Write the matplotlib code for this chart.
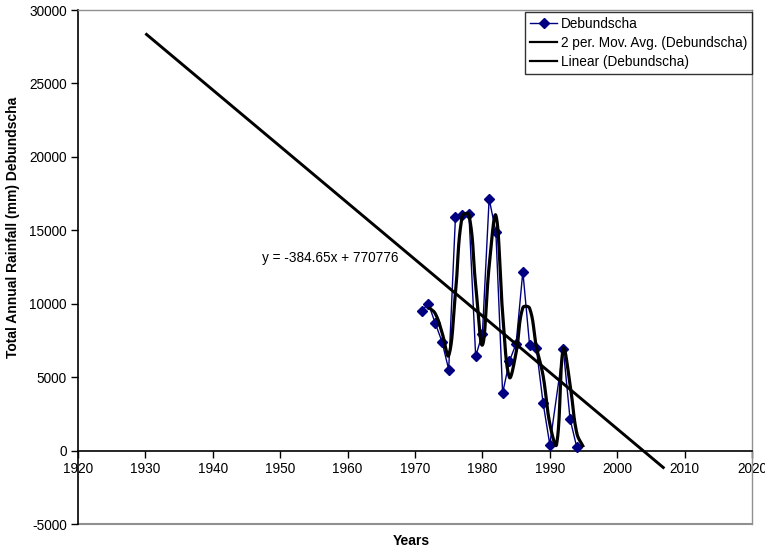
import numpy as np
import matplotlib
matplotlib.use("Agg")
import matplotlib.pyplot as plt
from matplotlib.lines import Line2D

plt.rcParams['font.family'] = ['Liberation Sans', 'DejaVu Sans']

# ---- data ----
years = [1971, 1972, 1973, 1974, 1975, 1976, 1977, 1978, 1979, 1980, 1981, 1982,
         1983, 1984, 1985, 1986, 1987, 1988, 1989, 1990, 1992, 1993, 1994]
rainfall = [9537, 9990, 8672, 7425, 5518, 15893, 16008, 16122, 6425, 7950, 17145, 14870,
            3906, 6085, 7270, 12190, 7200, 6970, 3250, 410, 6930, 2160, 225]

ma_years = [1972, 1973, 1974, 1975, 1976, 1977, 1978, 1979, 1980, 1981, 1982, 1983,
            1984, 1985, 1986, 1987, 1988, 1989, 1990, 1991, 1992, 1993, 1994, 1995]
ma_vals = [9763, 9331, 8049, 6472, 10706, 15951, 16065, 11274, 7188, 12548, 16008, 9388,
           4996, 6678, 9730, 9695, 7085, 5110, 1830, 410, 6930, 4545, 1193, 225]

trend_slope = -384.65
trend_intercept = 770776
trend_range = [1930, 2007]
equation = "y = -384.65x + 770776"

x_ticks = list(range(1920, 2021, 10))
y_ticks = list(range(-5000, 30001, 5000))

XLIM = (1920, 2020)
YLIM = (-5000, 30000)

FIG_W, FIG_H = 765, 555
AX_L, AX_R, AX_T, AX_B = 78, 752, 10, 524


def smooth(xs, ys, sx, sy, k=0.4, n=40):
    """Excel-like smoothed curve: Bezier segments whose control lengths
    are proportioned by neighbouring segment lengths (in screen space)."""
    P = np.column_stack([np.asarray(xs, float) * sx, np.asarray(ys, float) * sy])
    m = len(P)
    out_c = np.zeros_like(P)
    in_c = np.zeros_like(P)
    for i in range(m):
        pm = P[i - 1] if i > 0 else P[i]
        pp = P[i + 1] if i + 1 < m else P[i]
        d_prev = np.hypot(*(P[i] - pm))
        d_next = np.hypot(*(pp - P[i]))
        T = pp - pm
        tot = d_prev + d_next
        if tot == 0:
            out_c[i] = P[i]
            in_c[i] = P[i]
            continue
        out_c[i] = P[i] + T * k * d_next / tot
        in_c[i] = P[i] - T * k * d_prev / tot
    segs = []
    t = np.linspace(0, 1, n)[:, None]
    for i in range(m - 1):
        p0, c1, c2, p3 = P[i], out_c[i], in_c[i + 1], P[i + 1]
        seg = ((1 - t) ** 3) * p0 + 3 * ((1 - t) ** 2) * t * c1 + 3 * (1 - t) * t ** 2 * c2 + t ** 3 * p3
        if i > 0:
            seg = seg[1:]
        segs.append(seg)
    seg = np.vstack(segs)
    return seg[:, 0] / sx, seg[:, 1] / sy


fig = plt.figure(figsize=(FIG_W / 100, FIG_H / 100), dpi=100)
ax = fig.add_axes([AX_L / FIG_W, (FIG_H - AX_B) / FIG_H,
                   (AX_R - AX_L) / FIG_W, (AX_B - AX_T) / FIG_H])

navy = '#000080'
ax.plot(years, rainfall, color=navy, lw=1.0, marker='D', ms=5,
        markerfacecolor=navy, markeredgecolor=navy, zorder=3)

# screen-space scale factors (px per data unit) for the smoothing
sx = (AX_R - AX_L) / (XLIM[1] - XLIM[0])
sy = (AX_B - AX_T) / (YLIM[1] - YLIM[0])
mx, my = smooth(ma_years, ma_vals, sx, sy)
ax.plot(mx, my, color='black', lw=2.3, zorder=4, solid_capstyle='butt')

tx = np.array(trend_range, float)
ax.plot(tx, trend_slope * tx + trend_intercept, color='black', lw=2.1, zorder=5,
        solid_capstyle='butt')

ax.text(1947.3, 13100, equation, fontsize=9.8, ha='left', va='center')

ax.set_xlim(*XLIM)
ax.set_ylim(*YLIM)
ax.set_xticks(x_ticks)
ax.set_yticks(y_ticks)
ax.set_xticklabels([str(v) for v in x_ticks])
ax.set_yticklabels([str(v) for v in y_ticks])
ax.tick_params(axis='both', labelsize=9.8, direction='out', length=5, width=1, colors='black')
ax.tick_params(axis='x', pad=3)
ax.tick_params(axis='y', pad=3)

ax.spines['bottom'].set_position(('data', 0))
ax.spines['bottom'].set_color('black')
ax.spines['bottom'].set_linewidth(1.2)
ax.spines['left'].set_color('black')
ax.spines['left'].set_linewidth(1.2)
for s in ['top', 'right']:
    ax.spines[s].set_color('#909090')
    ax.spines[s].set_linewidth(1.0)
ax.plot([XLIM[0], XLIM[1]], [YLIM[0], YLIM[0]], color='#909090', lw=1.5,
        clip_on=False, zorder=1)

handles = [
    Line2D([], [], color=navy, lw=1.0, marker='D', ms=5, markerfacecolor=navy),
    Line2D([], [], color='black', lw=1.6),
    Line2D([], [], color='black', lw=1.6),
]
labels = ['Debundscha', '2 per. Mov. Avg. (Debundscha)', 'Linear (Debundscha)']
leg = ax.legend(handles, labels, loc='upper right', bbox_to_anchor=(1.0, 0.996),
                borderaxespad=0, fontsize=9.8, frameon=True, fancybox=False,
                edgecolor='black', handlelength=2.0, handletextpad=0.25,
                labelspacing=0.38, borderpad=0.35)
leg.get_frame().set_linewidth(1.0)

fig.text(411 / FIG_W, 1 - 541 / FIG_H, 'Years', fontsize=10, fontweight='bold',
         ha='center', va='center')
fig.text(13 / FIG_W, 1 - 227 / FIG_H, 'Total Annual Rainfall (mm) Debundscha', fontsize=10,
         fontweight='bold', ha='center', va='center', rotation=90)

fig.savefig('out.png', dpi=100)
